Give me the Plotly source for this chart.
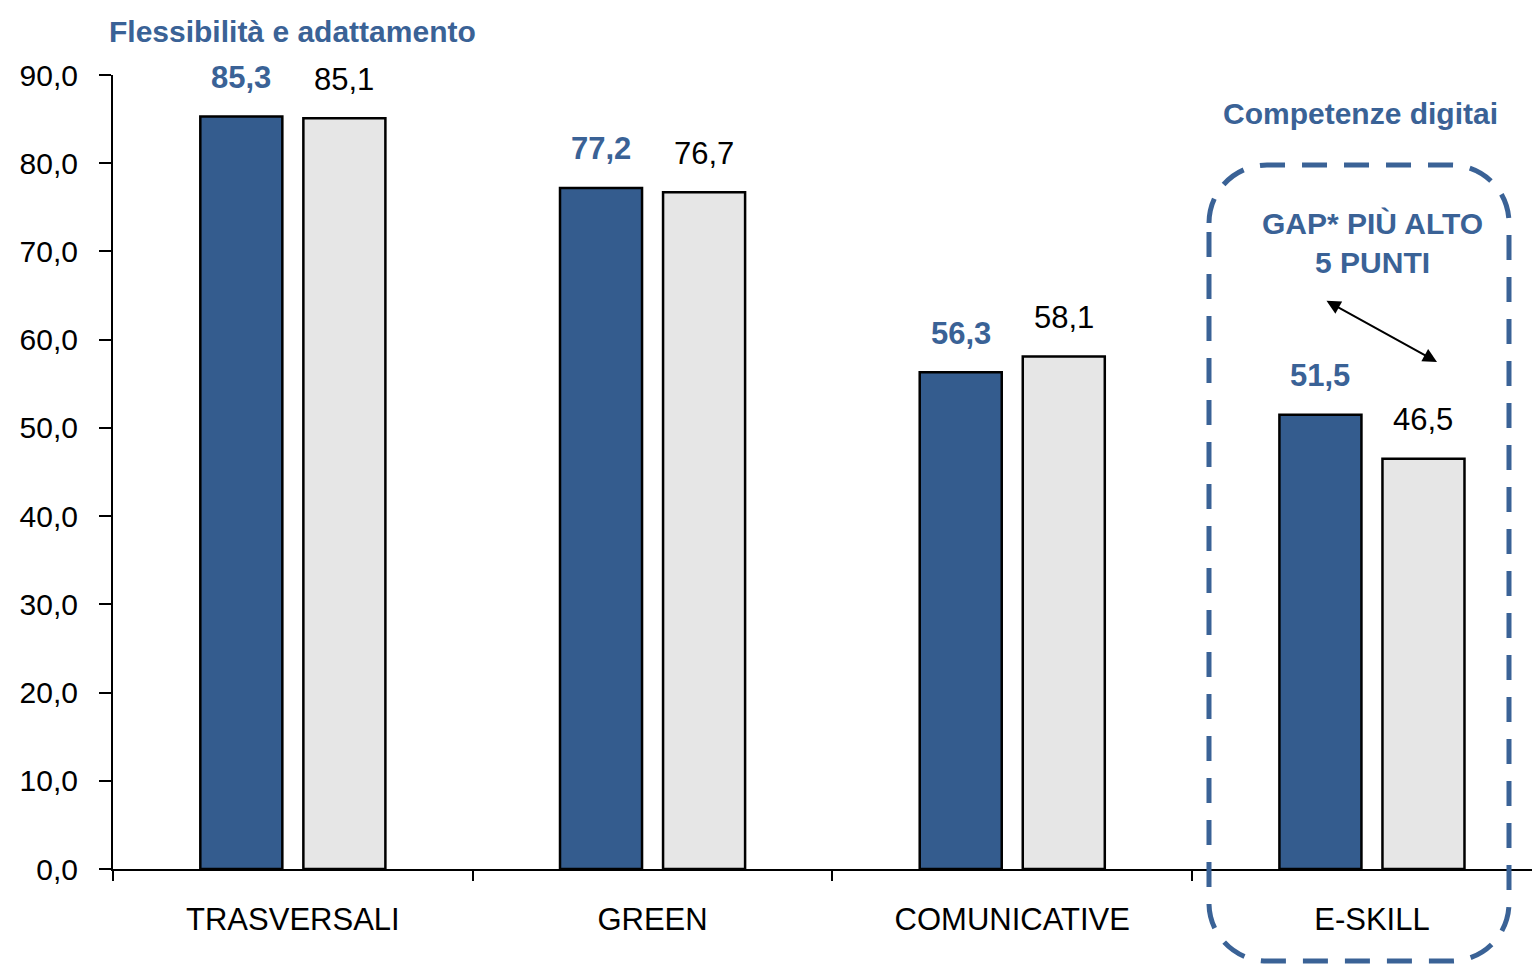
import plotly.graph_objects as go

categories = ['TRASVERSALI', 'GREEN', 'COMUNICATIVE', 'E-SKILL']
serie_blu = [85.3, 77.2, 56.3, 51.5]
serie_grigio = [85.1, 76.7, 58.1, 46.5]
y_ticks = [0, 10, 20, 30, 40, 50, 60, 70, 80, 90]

BLUE = '#345C8E'
TXT_BLUE = '#3A6296'
GREY = '#E6E6E6'
FONT = 'Liberation Sans Narrow, Arial Narrow, Liberation Sans, sans-serif'

W, H = 1540, 964
OFF = 8  # margine del body della pagina
L, T = 113 - OFF, 75 - OFF
B = H - (869 - OFF)
R = 0


def px(x):
    return (x - OFF - L) / (W - L - R)


def py(y):
    return (H - B - (y - OFF)) / (H - T - B)


def lab(v):
    return f'{v:.1f}'.replace('.', ',')


fig = go.Figure()
fig.add_trace(go.Bar(x=categories, y=serie_blu, marker=dict(color=BLUE, line=dict(color='#000000', width=2.5))))
fig.add_trace(go.Bar(x=categories, y=serie_grigio, marker=dict(color=GREY, line=dict(color='#000000', width=2.5))))

bargap = 0.427
off = (1 - bargap) / 4
cat_w = 359.7
x_max = -0.5 + (W - L - R) / cat_w

annotations = []
for i, v in enumerate(serie_blu):
    annotations.append(dict(x=i - off, y=v, xref='x', yref='y', text='<b>' + lab(v) + '</b>', showarrow=False,
                            xanchor='center', yanchor='middle', yshift=39,
                            font=dict(color=TXT_BLUE, size=31, family=FONT)))
for i, v in enumerate(serie_grigio):
    annotations.append(dict(x=i + off, y=v, xref='x', yref='y', text=lab(v), showarrow=False,
                            xanchor='center', yanchor='middle', yshift=39,
                            font=dict(color='#000000', size=31, family=FONT)))

annotations.append(dict(x=0, y=py(31), xref='x', yref='paper', text='<b>Flessibilità e adattamento</b>',
                        showarrow=False, xanchor='center', yanchor='middle',
                        font=dict(color=TXT_BLUE, size=30, family=FONT)))
annotations.append(dict(x=px(1360), y=py(113), xref='paper', yref='paper', text='<b>Competenze digitai</b>',
                        showarrow=False, xanchor='center', yanchor='middle',
                        font=dict(color=TXT_BLUE, size=30, family=FONT)))
annotations.append(dict(x=px(1372), y=py(243), xref='paper', yref='paper', text='<b>GAP* PIÙ ALTO<br>5 PUNTI</b>',
                        showarrow=False, xanchor='center', yanchor='middle',
                        font=dict(color=TXT_BLUE, size=30, family=FONT)))
# freccia doppia
annotations.append(dict(x=px(1437), y=py(362), xref='paper', yref='paper', ax=-112, ay=-62, text='',
                        showarrow=True, arrowhead=2, startarrowhead=2, arrowside='end+start',
                        arrowsize=1.4, startarrowsize=1.4, arrowwidth=2, arrowcolor='#000000'))

# riquadro tratteggiato arrotondato
l, r, t, b, rad = 1209, 1509, 165, 961, 58
k = 0.5523


def P(x, y):
    return f'{px(x):.5f},{py(y):.5f}'


path = (f'M {P(l, t + rad)} C {P(l, t + rad - k * rad)} {P(l + rad - k * rad, t)} {P(l + rad, t)} '
        f'L {P(r - rad, t)} C {P(r - rad + k * rad, t)} {P(r, t + rad - k * rad)} {P(r, t + rad)} '
        f'L {P(r, b - rad)} C {P(r, b - rad + k * rad)} {P(r - rad + k * rad, b)} {P(r - rad, b)} '
        f'L {P(l + rad, b)} C {P(l + rad - k * rad, b)} {P(l, b - rad + k * rad)} {P(l, b - rad)} Z')

fig.update_layout(
    width=W, height=H,
    margin=dict(l=L, r=R, t=T, b=B),
    plot_bgcolor='white', paper_bgcolor='white',
    barmode='group', bargap=bargap, bargroupgap=0.204,
    showlegend=False,
    separators=',.',
    font=dict(family=FONT, size=30, color='#000000'),
    annotations=annotations,
    shapes=[dict(type='path', path=path, xref='paper', yref='paper',
                 line=dict(color=TXT_BLUE, width=5, dash='25px,17px'))],
)
fig.update_xaxes(range=[-0.5, x_max], automargin=False, showline=True, linecolor='#000000', linewidth=2,
                 ticks='outside', tickson='boundaries', ticklen=10, tickwidth=2, tickcolor='#000000',
                 tickfont=dict(size=31, family=FONT), ticklabelstandoff=22, showgrid=False)
fig.update_yaxes(range=[0, 90], automargin=False, tickvals=y_ticks, tickformat='.1f', showline=True,
                 linecolor='#000000', linewidth=2, ticks='outside', ticklen=12, tickwidth=2, tickcolor='#000000',
                 tickfont=dict(size=30, family=FONT), ticklabelstandoff=15, showgrid=False, zeroline=False)

fig.write_html('out.html')
